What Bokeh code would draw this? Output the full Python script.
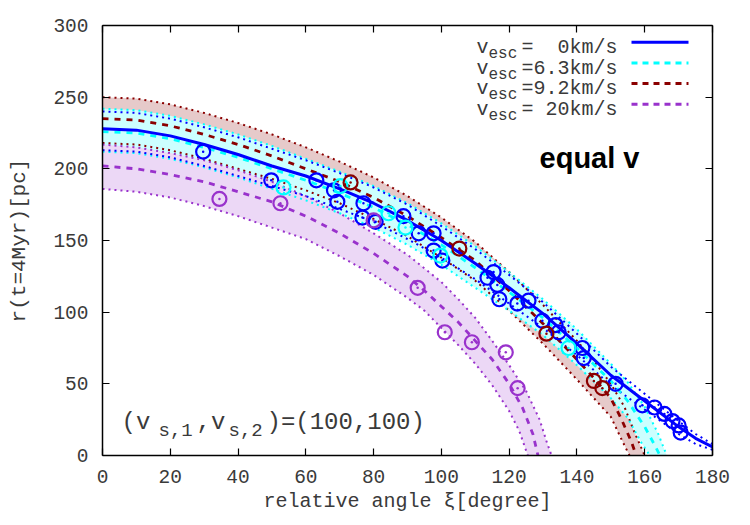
from bokeh.plotting import figure
from bokeh.models import LinearAxis, Label, FixedTicker
from bokeh.embed import file_html
from bokeh.resources import INLINE

# ---------------- data ----------------
# v_esc = 0 km/s (blue)
blue_c_x = [0,10,20,30,40,50,60,70,80,90,100,110,120,130,140,150,160,170,175,180]
blue_c_y = [228,227,223,217,210,202,195,186,176,164,150,134,117,99,78,56,38,20,12,6]
blue_u_y = [240,239,235,229,222,214,206,197,187,175,160,144,126,107,85,62,43,24,15,8]
blue_l_y = [213,212,208,202,195,188,181,172,163,151,138,123,106,89,70,49,32,15,8,4]

# v_esc = 6.3 km/s (cyan)
cyan_c_x = [0,10,20,30,40,50,60,70,80,90,100,110,120,130,140,150,155,160,163,164.5]
cyan_c_y = [226,225,221,215,208,200,192,183,173,161,147,131,114,96,75,52,38,20,7,0]
cyan_u_x = [0,10,20,30,40,50,60,70,80,90,100,110,120,130,140,150,155,160,164,166.5]
cyan_u_y = [242,241,237,231,224,216,207,198,188,176,162,146,128,109,88,64,51,34,15,0]
cyan_l_x = [0,10,20,30,40,50,60,70,80,90,100,110,120,130,140,150,155,159,161.5]
cyan_l_y = [212,211,207,201,194,186,178,169,159,147,133,117,101,84,63,40,26,9,0]

# v_esc = 9.2 km/s (dark red)
dred_c_x = [0,10,20,30,40,50,60,70,80,90,100,110,120,130,140,145,150,153,156,157.5]
dred_c_y = [235,234,230,224,217,209,200,191,180,167,152,136,115,92,67,54,40,26,10,0]
dred_u_x = [0,10,20,30,40,50,60,70,80,90,100,110,120,130,140,145,150,154,157,160]
dred_u_y = [250,249,245,239,232,224,215,205,194,181,166,149,128,105,80,66,50,34,16,0]
dred_l_x = [0,10,20,30,40,50,60,70,80,90,100,110,120,130,140,145,150,153,155.5]
dred_l_y = [218,217,213,207,200,193,185,176,165,153,138,122,101,78,53,40,27,12,0]

# v_esc = 20 km/s (purple)
purp_c_x = [0,10,20,30,40,50,60,70,80,90,95,100,105,110,115,120,124,127,128.5]
purp_c_y = [202,200,196,191,184,177,167,155,141,125,115,104,93,80,67,50,33,15,0]
purp_u_x = [0,10,20,30,40,50,60,70,80,90,100,105,110,115,120,125,129,131,132.5]
purp_u_y = [217,215,211,206,199,191,181,169,155,140,121,109,96,80,63,45,25,10,0]
purp_l_x = [0,10,20,30,40,50,60,70,80,90,95,100,105,110,115,120,123,125.5]
purp_l_y = [186,184,180,174,167,159,151,139,126,110,101,89,77,64,49,31,17,0]

# simulation points
blue_pts_x = [29.7,49.8,63.1,68.3,69.3,76.7,77,80.6,88.8,93.3,97.7,97.7,100.3,113.6,115.4,116.5,117.1,
              122.4,125.7,129.8,133.7,134.6,141.6,142,151.4,159.3,162.9,165.8,168.2,170,170.6]
blue_pts_y = [212,192,192,185,177,166,176,163,167,155,155,143,136,124,128,119,109,
              106,108,94,91,86,75,68,50,35,33.5,29,24,21,16]
cyan_pts_x = [53.4,70.2,84.4,89.4,99.7,137.5]
cyan_pts_y = [187,188,169,159,139.5,75]
dred_pts_x = [73.2,105.3,131,145,147.5]
dred_pts_y = [190.5,144.4,85,52,47]
purp_pts_x = [34.5,52.5,80,93,101,109,119,122.5]
purp_pts_y = [179,176,164,117,86,79,72,47]

x_ticks = [0,20,40,60,80,100,120,140,160,180]
y_ticks = [0,50,100,150,200,250,300]

NB = "\u00a0"
legend_labels = ["=" + NB + NB + "0km/s", "=6.3km/s", "=9.2km/s", "=" + NB + "20km/s"]

# ---------------- style ----------------
BLUE = "#0000ff"
CYAN = "#00ffff"
DRED = "#8b0000"
PURP = "#9932cc"
FILL_BROWN = "#e6caca"
FILL_CYAN = "#ccffff"
FILL_PURP = "#ecd8f6"
MONO = "Liberation Mono"
TXT = "#3a3a3a"

W, H = 750, 525
L, R, T, B = 102, 38, 25, 70
FW, FH = W - L - R, H - T - B
X0, X1, Y0, Y1 = 0, 180, 0, 300


def dx(px):
    return X0 + (px - L) * (X1 - X0) / FW


def dy(py):
    return Y0 + (T + FH - py) * (Y1 - Y0) / FH


p = figure(width=W, height=H, x_range=(X0, X1), y_range=(Y0, Y1),
           output_backend="svg", toolbar_location=None,
           min_border_left=L, min_border_right=R, min_border_top=T, min_border_bottom=B)
p.grid.visible = False
p.outline_line_color = None
p.background_fill_color = "white"

# axes
for ax in (p.xaxis[0], p.yaxis[0]):
    ax.major_tick_in = 7
    ax.major_tick_out = 0
    ax.minor_tick_line_color = None
    ax.axis_line_width = 1.5
    ax.major_tick_line_width = 1.2
    ax.major_label_text_font = MONO
    ax.major_label_text_font_size = "19.5px"
    ax.major_label_text_color = TXT
    ax.axis_label_text_font = MONO
    ax.axis_label_text_font_style = "normal"
    ax.axis_label_text_color = TXT

p.xaxis[0].ticker = FixedTicker(ticks=x_ticks)
p.yaxis[0].ticker = FixedTicker(ticks=y_ticks)
p.xaxis[0].axis_label = "relative angle ξ[degree]"
p.yaxis[0].axis_label = "r(t=4Myr)[pc]"
p.xaxis[0].axis_label_text_font_size = "20px"
p.yaxis[0].axis_label_text_font_size = "21px"
p.xaxis[0].major_label_standoff = 14
p.xaxis[0].axis_label_standoff = 4
p.yaxis[0].major_label_standoff = 14
p.yaxis[0].axis_label_standoff = 19

for side, ticks in (("right", y_ticks), ("above", x_ticks)):
    ax = LinearAxis(ticker=FixedTicker(ticks=ticks))
    ax.major_tick_in = 7
    ax.major_tick_out = 0
    ax.minor_tick_line_color = None
    ax.axis_line_width = 1.5
    ax.major_tick_line_width = 1.2
    ax.major_label_overrides = {t: "" for t in ticks}
    ax.major_label_standoff = 0
    p.add_layout(ax, side)

# bands (fill)
p.patch(dred_u_x + dred_l_x[::-1], dred_u_y + dred_l_y[::-1], fill_color=FILL_BROWN, line_color=None)
p.patch(cyan_u_x + cyan_l_x[::-1], cyan_u_y + cyan_l_y[::-1], fill_color=FILL_CYAN, line_color=None)
p.patch(purp_u_x + purp_l_x[::-1], purp_u_y + purp_l_y[::-1], fill_color=FILL_PURP, line_color=None)

DOT = "2 4"
DASH = "6 6"
# band edges (dotted)
p.line(dred_u_x, dred_u_y, color=DRED, line_width=2, line_dash=DOT)
p.line(dred_l_x, dred_l_y, color=DRED, line_width=2, line_dash=DOT)
p.line(cyan_u_x, cyan_u_y, color=CYAN, line_width=2, line_dash=DOT)
p.line(cyan_l_x, cyan_l_y, color=CYAN, line_width=2, line_dash=DOT)
p.line(purp_u_x, purp_u_y, color=PURP, line_width=2, line_dash=DOT)
p.line(purp_l_x, purp_l_y, color=PURP, line_width=2, line_dash=DOT)
p.line(blue_c_x, blue_u_y, color=BLUE, line_width=2, line_dash=DOT)
p.line(blue_c_x, blue_l_y, color=BLUE, line_width=2, line_dash=DOT)

# central curves
p.line(dred_c_x, dred_c_y, color=DRED, line_width=2.8, line_dash=DASH)
p.line(cyan_c_x, cyan_c_y, color=CYAN, line_width=2.8, line_dash=DASH)
p.line(purp_c_x, purp_c_y, color=PURP, line_width=2.8, line_dash=DASH)
p.line(blue_c_x, blue_c_y, color=BLUE, line_width=3)

# points
for xs, ys, col in ((blue_pts_x, blue_pts_y, BLUE), (cyan_pts_x, cyan_pts_y, CYAN),
                    (dred_pts_x, dred_pts_y, DRED), (purp_pts_x, purp_pts_y, PURP)):
    p.scatter(xs, ys, size=14, marker="circle", fill_color=None, line_color=col, line_width=2.2)
    p.scatter(xs, ys, size=2.5, marker="circle", fill_color=col, line_color=None)

# legend (manual, to get subscripts)
leg_cols = [BLUE, CYAN, DRED, PURP]
for i, (lab, col) in enumerate(zip(legend_labels, leg_cols)):
    base = 47 + i * 20.7
    mid = 41.7 + i * 20.7
    p.add_layout(Label(x=dx(476), y=dy(base), text="v", text_font=MONO, text_font_size="20px",
                       text_color=TXT, text_baseline="alphabetic", text_align="left"))
    p.add_layout(Label(x=dx(488), y=dy(base + 6.5), text="esc", text_font=MONO, text_font_size="16px",
                       text_color=TXT, text_baseline="alphabetic", text_align="left"))
    p.add_layout(Label(x=dx(617), y=dy(base), text=lab, text_font=MONO, text_font_size="20px",
                       text_color=TXT, text_baseline="alphabetic", text_align="right"))
    if i == 0:
        p.line([dx(631), dx(688)], [dy(mid), dy(mid)], color=col, line_width=3)
    else:
        p.line([dx(631), dx(688)], [dy(mid), dy(mid)], color=col, line_width=3, line_dash="6 5")

# "equal v"
p.add_layout(Label(x=dx(589), y=dy(157), text="equal v", text_font="Liberation Sans",
                   text_font_size="29px", text_font_style="bold", text_color="black",
                   text_align="center", text_baseline="middle"))

# (v_s,1, v_s,2) = (100,100)
for txt, px, size, off in (("(v", 121, "24px", 0), ("s,1", 158, "19px", 8),
                           (",v", 196, "24px", 0), ("s,2", 228, "19px", 8),
                           (")=(100,100)", 266, "24px", 0)):
    p.add_layout(Label(x=dx(px), y=dy(422 + off), text=txt, text_font=MONO, text_font_size=size,
                       text_color=TXT, text_baseline="alphabetic", text_align="left"))

open("out.html", "w").write(file_html(p, INLINE))
